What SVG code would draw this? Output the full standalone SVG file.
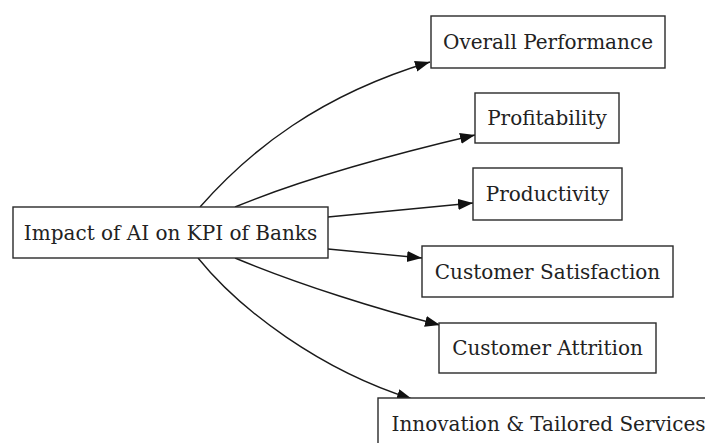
<svg xmlns="http://www.w3.org/2000/svg" width="705" height="443" viewBox="0 0 705 443">
<style>
.box{fill:#fff;stroke:#2a2a2a;stroke-width:1.4}
.lbl{font-family:"DejaVu Serif",serif;font-size:20px;fill:#222;text-anchor:middle;dominant-baseline:central}
.edge{fill:none;stroke:#1a1a1a;stroke-width:1.4}
</style>
<defs>
<marker id="arr" markerUnits="userSpaceOnUse" markerWidth="18" markerHeight="12" refX="15" refY="5.5" orient="auto">
<path d="M0,0 L15,5.5 L0,11 Z" fill="#111"/>
</marker>
</defs>
<rect width="705" height="443" fill="#fff"/>
<g id="edges">
<path class="edge" marker-end="url(#arr)" d="M200,207 C250,150 320,95 430,62"/>
<path class="edge" marker-end="url(#arr)" d="M235,207 C300,180 390,155 475,135"/>
<path class="edge" marker-end="url(#arr)" d="M328,217 L473,203"/>
<path class="edge" marker-end="url(#arr)" d="M328,249 L422,258"/>
<path class="edge" marker-end="url(#arr)" d="M235,258 C300,285 380,310 440,325"/>
<path class="edge" marker-end="url(#arr)" d="M198,258 C240,310 320,370 412,399"/>
</g>
<g id="main"><rect class="box" x="13" y="207" width="315" height="51"/><text class="lbl" x="170.5" y="232.5">Impact of AI on KPI of Banks</text></g>
<g id="overall"><rect class="box" x="431" y="16" width="234" height="52"/><text class="lbl" x="548" y="42">Overall Performance</text></g>
<g id="profit"><rect class="box" x="475" y="93" width="144" height="50"/><text class="lbl" x="547" y="118">Profitability</text></g>
<g id="product"><rect class="box" x="473" y="168" width="149" height="52"/><text class="lbl" x="547.5" y="194">Productivity</text></g>
<g id="satisf"><rect class="box" x="422" y="246" width="251" height="51"/><text class="lbl" x="547.5" y="271.5">Customer Satisfaction</text></g>
<g id="attrition"><rect class="box" x="439" y="323" width="217" height="50"/><text class="lbl" x="547.5" y="348">Customer Attrition</text></g>
<g id="innov"><rect class="box" x="378" y="398" width="340" height="52"/><text class="lbl" x="548.5" y="424">Innovation &amp; Tailored Services</text></g>
</svg>
